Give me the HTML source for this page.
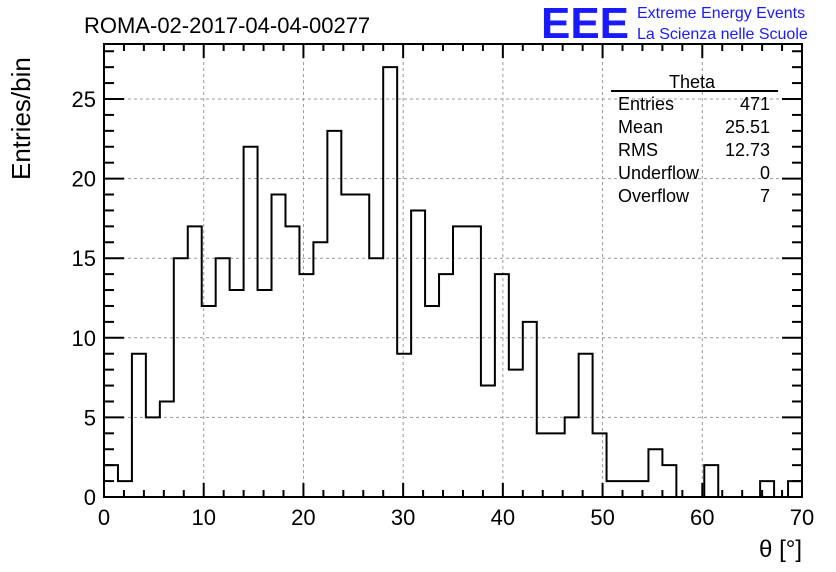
<!DOCTYPE html>
<html><head><meta charset="utf-8"><style>
body{margin:0;background:#fff}
svg{display:block;font-family:"Liberation Sans",sans-serif}
</style></head><body>
<svg width="836" height="572" viewBox="0 0 836 572">
<rect width="836" height="572" fill="#fff"/>
<g id="grid"></g>
<g id="ticks"></g>
<path id="hist" fill="none" stroke="#000" stroke-width="2"/>
<rect x="104" y="44" width="698" height="453" fill="none" stroke="#000" stroke-width="2"/>
<g id="labels" font-size="22" fill="#000"></g>
<text x="84" y="33" font-size="22">ROMA-02-2017-04-04-00277</text>
<text x="541" y="38" font-size="44" font-weight="bold" fill="#1a1aff" textLength="88" lengthAdjust="spacingAndGlyphs">EEE</text>
<text x="637" y="18" font-size="16" fill="#1a1aff">Extreme Energy Events</text>
<text x="637" y="39" font-size="16" fill="#1a1aff">La Scienza nelle Scuole</text>
<text transform="translate(30,180) rotate(-90)" font-size="26">Entries/bin</text>
<text x="802" y="557" font-size="24" text-anchor="end">θ [°]</text>
<g font-size="18">
<line x1="611" y1="91" x2="778" y2="91" stroke="#000" stroke-width="2"/>
<text x="692" y="88" text-anchor="middle">Theta</text>
<text x="618" y="110">Entries</text><text x="770" y="110" text-anchor="end">471</text>
<text x="618" y="133">Mean</text><text x="770" y="133" text-anchor="end">25.51</text>
<text x="618" y="156">RMS</text><text x="770" y="156" text-anchor="end">12.73</text>
<text x="618" y="179">Underflow</text><text x="770" y="179" text-anchor="end">0</text>
<text x="618" y="202">Overflow</text><text x="770" y="202" text-anchor="end">7</text>
</g>
</svg>
<script>
const binCounts=[2,1,9,5,6,15,17,12,15,13,22,13,19,17,14,16,23,19,19,15,27,9,18,12,14,17,17,7,14,8,11,4,4,5,9,4,1,1,1,3,2,0,0,2,0,0,0,1,0,1];
const xTicks=[0,10,20,30,40,50,60,70];
const yTicks=[0,5,10,15,20,25];
const xMin=0,xMax=70,binW=1.4;
const X=v=>104+(v-xMin)/(xMax-xMin)*698;
const Y=v=>497-v*15.92;
const NS="http://www.w3.org/2000/svg";
function mk(tag,attrs,parent){const e=document.createElementNS(NS,tag);for(const k in attrs)e.setAttribute(k,attrs[k]);parent.appendChild(e);return e;}
let d="M"+X(0)+","+Y(0);
binCounts.forEach((c,i)=>{d+=" L"+X(i*binW)+","+Y(c)+" L"+X((i+1)*binW)+","+Y(c);});
d+=" L"+X(binCounts.length*binW)+","+Y(0);
document.getElementById('hist').setAttribute('d',d);
const grid=document.getElementById('grid'),ticks=document.getElementById('ticks'),labels=document.getElementById('labels');
xTicks.forEach(t=>{
 if(t>xMin&&t<xMax){const g=mk('line',{x1:X(t),x2:X(t),y1:44,y2:497,stroke:'#999','stroke-dasharray':'3,3'},grid);
 }
 const tx=mk('text',{x:X(t),y:525,'text-anchor':'middle'},labels);tx.textContent=t;
 
});
yTicks.forEach(t=>{
 if(t>0){const g=mk('line',{x1:104,x2:802,y1:Y(t),y2:Y(t),stroke:'#999','stroke-dasharray':'3,3'},grid);
 }
 const tx=mk('text',{x:96,y:Y(t)+8,'text-anchor':'end'},labels);tx.textContent=t;
 
});
for(let v=0;v<=70;v+=2){const L=v%10===0?14:7;
 mk('line',{x1:X(v),x2:X(v),y1:497,y2:497-L,stroke:'#000','stroke-width':2},ticks);
 mk('line',{x1:X(v),x2:X(v),y1:44,y2:44+L,stroke:'#000','stroke-width':2},ticks);}
for(let v=0;v<=28;v++){const L=v%5===0?20:10;
 mk('line',{x1:104,x2:104+L,y1:Y(v),y2:Y(v),stroke:'#000','stroke-width':2},ticks);
 mk('line',{x1:802,x2:802-L,y1:Y(v),y2:Y(v),stroke:'#000','stroke-width':2},ticks);}
</script>
</body></html>
